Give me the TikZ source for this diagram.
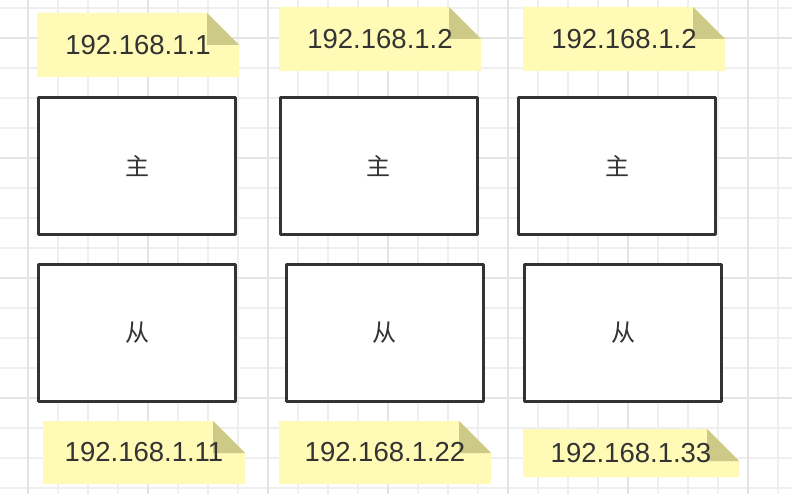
\documentclass[tikz,border=0pt]{standalone}
\usepackage{fontspec}
\setmainfont{Liberation Sans}
\newfontfamily\cjk{Noto Sans CJK SC}
\usetikzlibrary{calc}
\definecolor{bg}{HTML}{FFFFFF}
\definecolor{gridminor}{HTML}{EFEFEF}
\definecolor{gridmajor}{HTML}{E4E4E4}
\definecolor{ink}{HTML}{333333}
\definecolor{notefill}{HTML}{FFFAB5}
\definecolor{notefold}{HTML}{CCCA86}
\tikzset{
  gridline/.style={draw=gridminor, line width=1.5pt},
  gridbold/.style={draw=gridmajor, line width=1.5pt},
  hostbox/.style={draw=ink, fill=bg, line width=3pt, line join=round,
    minimum width=197pt, minimum height=137pt, inner sep=0pt,
    text=ink, font=\cjk\fontsize{24}{24}\selectfont},
  notebody/.style={fill=notefill},
  notecorner/.style={fill=notefold},
  iplab/.style={text=ink, font=\fontsize{27.5}{27.5}\selectfont, inner sep=0pt},
}

\begin{document}
\begin{tikzpicture}[x=1pt, y=-1pt]
  \useasboundingbox (0,0) rectangle (792,494);
  \fill[bg] (0,0) rectangle (792,494);
  % background grid
  \foreach \gx in {28,58,...,778} \draw[gridline] (\gx,0) -- (\gx,494);
  \foreach \gy in {8,38,...,488} \draw[gridline] (0,\gy) -- (792,\gy);
  \foreach \gx in {28,148,...,748} \draw[gridbold] (\gx,0) -- (\gx,494);
  \foreach \gy in {38,158,...,398} \draw[gridbold] (0,\gy) -- (792,\gy);
  % address notes
  \foreach \nm/\l/\t/\r/\b/\ip in {
      ip1/37/13/239/77/192.168.1.1,
      ip2/279/7/481/71/192.168.1.2,
      ip3/523/7/725/71/192.168.1.2,
      ip4/43/421/245/484/192.168.1.11,
      ip5/279/421/491/484/192.168.1.22,
      ip6/523/429/739/477/192.168.1.33} {
    \fill[notebody] (\l,\t) -- (\r-32,\t) -- (\r,\t+32) -- (\r,\b) -- (\l,\b) -- cycle;
    \fill[notecorner] (\r-32,\t) -- (\r-32,\t+32) -- (\r,\t+32) -- cycle;
    \node[iplab] (\nm) at ({(\l+\r)/2},{(\t+\b)/2}) {\ip};
  }
  % master and slave boxes
  \node[hostbox] (m1) at (137,166.5) {主};
  \node[hostbox] (m2) at (378.5,166.5) {主};
  \node[hostbox] (m3) at (617,166.5) {主};
  \node[hostbox] (s1) at (137,333) {从};
  \node[hostbox] (s2) at (384.5,333) {从};
  \node[hostbox] (s3) at (623,333) {从};
\end{tikzpicture}
\end{document}
